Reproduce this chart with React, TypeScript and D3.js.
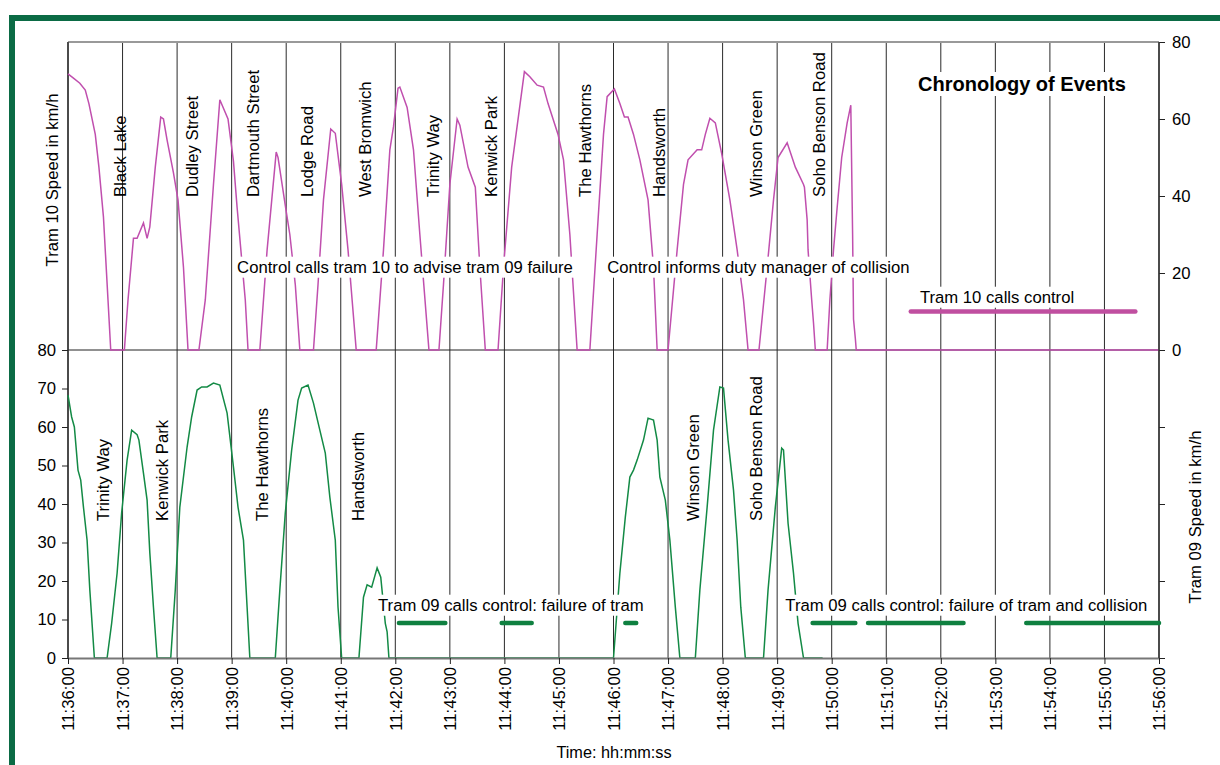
import React, { useRef, useEffect } from "react"
import * as d3 from "d3"

// [seconds after 11:36:00, speed km/h]
const tram10: [number, number][] = [
	[0, 71.7], [6, 70.6], [13, 69.3], [19, 67.5], [23, 64], [30, 56], [34, 47.5], [39, 34.5], [44, 13], [47, 0],
	[62, 0], [66, 13], [72, 29], [76, 29], [83, 33], [87, 29], [90, 32], [96, 47.5], [102, 60.5], [105, 60],
	[109, 54.5], [116, 46], [121, 39], [127, 21.5], [132, 0], [144, 0], [151, 13], [160, 43], [167, 65], [176, 60],
	[182, 49], [186, 37], [195, 13], [198, 0], [211, 0], [219, 26], [229, 51.4], [231, 50], [240, 36], [244, 30],
	[250, 17], [255, 0], [270, 0], [275, 17], [281, 39], [289, 57.4], [294, 56.3], [301, 43], [308, 26], [317, 0],
	[339, 0], [347, 26], [354, 52], [358, 58], [363, 68], [365, 68.3], [373, 63], [380, 52], [387, 30], [397, 0],
	[408, 0], [413, 17], [420, 43], [428, 60], [431, 58.4], [440, 47.5], [448, 42.3], [453, 21.5], [459, 0],
	[473, 0], [479, 21.5], [488, 47.5], [502, 72.3], [508, 71], [516, 68.8], [523, 68.3], [528, 64], [539, 56],
	[545, 49.4], [552, 30], [560, 0], [574, 0], [582, 30], [589, 56], [593, 65.8], [601, 67.8], [607, 64],
	[612, 60.5], [616, 60.5], [622, 56], [629, 49.4], [638, 39], [644, 21.5], [648, 0], [660, 0], [670, 26],
	[677, 43], [682, 49.4], [692, 52], [697, 52], [701, 56], [706, 60.2], [712, 59], [719, 51], [728, 39],
	[736, 26], [743, 13], [748, 0], [760, 0], [769, 21.5], [776, 39], [781, 50], [791, 53.8], [800, 47.5],
	[809, 43], [810, 42.3], [813, 33.8], [814, 26], [818, 13], [820, 7], [822, 0], [835, 0], [838, 13],
	[842, 26], [846, 37], [851, 50], [857, 59], [861, 63.6], [863, 30], [864, 8], [866, 3], [867, 0], [1200, 0],
]

const tram09: [number, number][] = [
	[0, 68.3], [4, 62.6], [7, 60], [11, 48.8], [14, 46.2], [17, 39.2], [21, 30.6], [24, 17.7], [29, 0], [43, 0],
	[48, 9], [54, 22], [59, 37.7], [65, 51.4], [70, 59.2], [76, 58], [78, 56.6], [83, 48], [87, 41], [90, 27.3],
	[94, 13.2], [98, 0], [113, 0], [118, 17.7], [123, 39.2], [131, 54.8], [136, 62.6], [142, 69.6], [147, 70.4],
	[153, 70.4], [160, 71.4], [167, 70.9], [175, 63.6], [182, 49.6], [187, 39.2], [193, 30.6], [197, 13.2],
	[200, 0], [228, 0], [233, 17.7], [239, 37.7], [246, 54], [253, 67], [257, 70.1], [264, 70.9], [270, 66.2],
	[277, 59.2], [283, 53.2], [288, 41.8], [294, 30.6], [297, 13.2], [301, 0], [320, 0], [325, 15.8], [329, 19],
	[334, 18.4], [340, 23.4], [344, 21], [349, 9], [351, 6.8], [353, 0], [600, 0], [607, 22], [613, 36.6],
	[618, 47], [622, 48.8], [626, 51.4], [633, 56.6], [638, 62.3], [644, 61.8], [648, 56.6], [651, 47], [657, 41],
	[662, 30.6], [668, 13.2], [673, 0], [690, 0], [695, 17.7], [703, 39.2], [710, 59.2], [717, 70.4], [721, 70.1],
	[726, 56.6], [732, 43.6], [736, 30.6], [740, 13.2], [745, 0], [765, 0], [770, 17.7], [778, 39.2], [785, 54.5],
	[787, 54], [792, 35], [798, 22], [803, 9], [809, 0], [830, 0],
]

const tram10Stops = ["Black Lake", "Dudley Street", "Dartmouth Street", "Lodge Road", "West Bromwich", "Trinity Way",
	"Kenwick Park", "The Hawthorns", "Handsworth", "Winson Green", "Soho Benson Road"]
const tram10StopTimes = [57, 136, 204, 263, 327, 402, 465, 569, 650, 757, 826]
const tram09Stops = ["Trinity Way", "Kenwick Park", "The Hawthorns", "Handsworth", "Winson Green", "Soho Benson Road"]
const tram09StopTimes = [39, 103, 213, 319, 688, 757]

// radio calls, [start, end] seconds
const tram10Calls: [number, number][] = [[927, 1174]]
const tram09Calls: [number, number][] = [[364, 415], [477, 510], [613, 625], [819, 866], [880, 985], [1054, 1200]]

const notes = [
	{ text: "Control calls tram 10 to advise tram 09 failure", t: 186, v: 21.6, top: true },
	{ text: "Control informs duty manager of collision", t: 593, v: 21.6, top: true },
	{ text: "Tram 10 calls control", t: 937, v: 13.8, top: true },
	{ text: "Tram 09 calls control: failure of tram", t: 341, v: 13.8, top: false },
	{ text: "Tram 09 calls control: failure of tram and collision", t: 789, v: 13.8, top: false },
]

const PINK = "#c04fae"
const GREEN = "#138a45"
const FONT = "'Liberation Sans', Arial, sans-serif"

const App: React.FunctionComponent = () => {
	const svgRef = useRef<any>()

	useEffect(() => {
		const svg = d3.select(svgRef.current)
		svg.selectAll("*").remove()

		const t0 = new Date(2000, 0, 1, 11, 36, 0)
		const toDate = (s: number) => new Date(t0.getTime() + s * 1000)

		const left = 68, right = 1159, top = 42, mid = 350, bottom = 658

		const x = d3.scaleTime().domain([t0, toDate(1200)]).range([left, right])
		const yTop = d3.scaleLinear().domain([0, 80]).range([mid, top])
		const yBot = d3.scaleLinear().domain([0, 80]).range([bottom, mid])

		svg.append("rect").attr("width", 1220).attr("height", 765).attr("fill", "white")

		// frame
		svg.append("rect")
			.attr("x", 12).attr("y", 18).attr("width", 1400).attr("height", 900)
			.attr("fill", "none").attr("stroke", "#0b6b45").attr("stroke-width", 6)

		// minute gridlines
		const minutes = x.ticks(d3.timeMinute.every(1) as any)
		svg.append("g").selectAll("line")
			.data(minutes)
			.join("line")
			.attr("x1", (d) => x(d)).attr("x2", (d) => x(d))
			.attr("y1", top).attr("y2", bottom)
			.attr("stroke", "#2a2a2a").attr("stroke-width", 1)

		svg.append("line").attr("x1", left).attr("x2", right).attr("y1", top).attr("y2", top)
			.attr("stroke", "#999").attr("stroke-width", 2)
		svg.append("line").attr("x1", left).attr("x2", right).attr("y1", mid).attr("y2", mid)
			.attr("stroke", "#222").attr("stroke-width", 1)
		svg.append("line").attr("x1", left).attr("x2", left).attr("y1", top).attr("y2", bottom)
			.attr("stroke", "#333").attr("stroke-width", 1.5)

		// speed lines
		const lineTop = d3.line<[number, number]>().x((d) => x(toDate(d[0]))).y((d) => yTop(d[1]))
		const lineBot = d3.line<[number, number]>().x((d) => x(toDate(d[0]))).y((d) => yBot(d[1]))

		svg.append("path").datum(tram10).attr("d", lineTop)
			.attr("fill", "none").attr("stroke", PINK).attr("stroke-width", 1.5)
		svg.append("path").datum(tram09).attr("d", lineBot)
			.attr("fill", "none").attr("stroke", GREEN).attr("stroke-width", 1.5)

		// axes
		const xAxis = d3.axisBottom(x)
			.ticks(d3.timeMinute.every(1) as any)
			.tickFormat(d3.timeFormat("%H:%M:%S") as any)
			.tickSize(6).tickSizeOuter(0)
		const gx = svg.append("g").attr("transform", `translate(0, ${bottom})`).call(xAxis)
		gx.select(".domain").attr("stroke", "#777").attr("stroke-width", 2)
		gx.selectAll(".tick line").attr("stroke", "#222")
		gx.selectAll("text")
			.attr("transform", "rotate(-90)")
			.attr("x", -9).attr("y", 0).attr("dy", "0.35em")
			.style("text-anchor", "end")

		const yAxisL = d3.axisLeft(yBot).tickValues(d3.range(0, 81, 10)).tickSize(6).tickPadding(6).tickSizeOuter(0)
		const gl = svg.append("g").attr("transform", `translate(${left}, 0)`).call(yAxisL)
		gl.select(".domain").remove()

		const yAxisR = d3.axisRight(yTop).tickValues([0, 20, 40, 60, 80]).tickSize(6).tickPadding(7).tickSizeOuter(0)
		const gr = svg.append("g").attr("transform", `translate(${right}, 0)`).call(yAxisR)
		gr.select(".domain").remove()
		const gr2 = svg.append("g").attr("transform", `translate(${right}, 0)`)
			.call(d3.axisRight(yBot).tickValues([0, 20, 40, 60]).tickFormat(() => "").tickSize(6).tickSizeOuter(0))
		gr2.select(".domain").remove()
		svg.append("line").attr("x1", right).attr("x2", right).attr("y1", top).attr("y2", bottom)
			.attr("stroke", "#333").attr("stroke-width", 1.5)

		svg.selectAll(".tick text").style("font-family", FONT).style("font-size", "16.7px").attr("fill", "#000")
		svg.selectAll(".tick line").attr("stroke", "#222")

		// station names
		const stop = (names: string[], times: number[], y: number) =>
			svg.append("g").selectAll("text")
				.data(names)
				.join("text")
				.attr("transform", (d, i) => `translate(${x(toDate(times[i]))}, ${y}) rotate(-90)`)
				.attr("dy", "0.35em")
				.style("font-family", FONT).style("font-size", "16.7px")
				.text((d) => d)
		stop(tram10Stops, tram10StopTimes, 197)
		stop(tram09Stops, tram09StopTimes, 521)

		// label with white box behind
		const boxed = (txt: string, tx: number, ty: number, size: string, weight: string, anchor: string) => {
			const g = svg.append("g")
			const bg = g.append("rect").attr("fill", "white")
			const t = g.append("text").attr("x", tx).attr("y", ty).attr("dy", "0.35em")
				.style("font-family", FONT).style("font-size", size).style("font-weight", weight)
				.style("text-anchor", anchor).text(txt)
			const b = (t.node() as SVGTextElement).getBBox()
			bg.attr("x", b.x - 2).attr("y", b.y - 1).attr("width", b.width + 4).attr("height", b.height + 2)
		}
		notes.forEach((n) => boxed(n.text, x(toDate(n.t)), (n.top ? yTop : yBot)(n.v), "16.7px", "normal", "start"))
		boxed("Chronology of Events", 1022, 84, "20px", "bold", "middle")

		// call bars
		svg.append("g").selectAll("line")
			.data(tram10Calls)
			.join("line")
			.attr("x1", (d) => x(toDate(d[0]))).attr("x2", (d) => x(toDate(d[1])))
			.attr("y1", yTop(10)).attr("y2", yTop(10))
			.attr("stroke", "#c04fa0").attr("stroke-width", 4.5).attr("stroke-linecap", "round")
		svg.append("g").selectAll("line")
			.data(tram09Calls)
			.join("line")
			.attr("x1", (d) => x(toDate(d[0]))).attr("x2", (d) => x(toDate(d[1])))
			.attr("y1", yBot(9.1)).attr("y2", yBot(9.1))
			.attr("stroke", "#0f8040").attr("stroke-width", 4.5).attr("stroke-linecap", "round")

		// axis titles
		svg.append("text").attr("transform", "translate(52, 180) rotate(-90)").attr("dy", "0.35em")
			.style("text-anchor", "middle").style("font-family", FONT).style("font-size", "16.7px")
			.text("Tram 10 Speed in km/h")
		svg.append("text").attr("transform", "translate(1195, 517) rotate(-90)").attr("dy", "0.35em")
			.style("text-anchor", "middle").style("font-family", FONT).style("font-size", "16.7px")
			.text("Tram 09 Speed in km/h")
		svg.append("text").attr("x", 614).attr("y", 752).attr("dy", "0.35em")
			.style("text-anchor", "middle").style("font-family", FONT).style("font-size", "16.3px")
			.text("Time: hh:mm:ss")
	}, [])

	return (
		<svg
			ref={svgRef}
			width={1220}
			height={765}
			style={{ position: "absolute", left: 0, top: 0 }}
		></svg>
	)
}

export default App
